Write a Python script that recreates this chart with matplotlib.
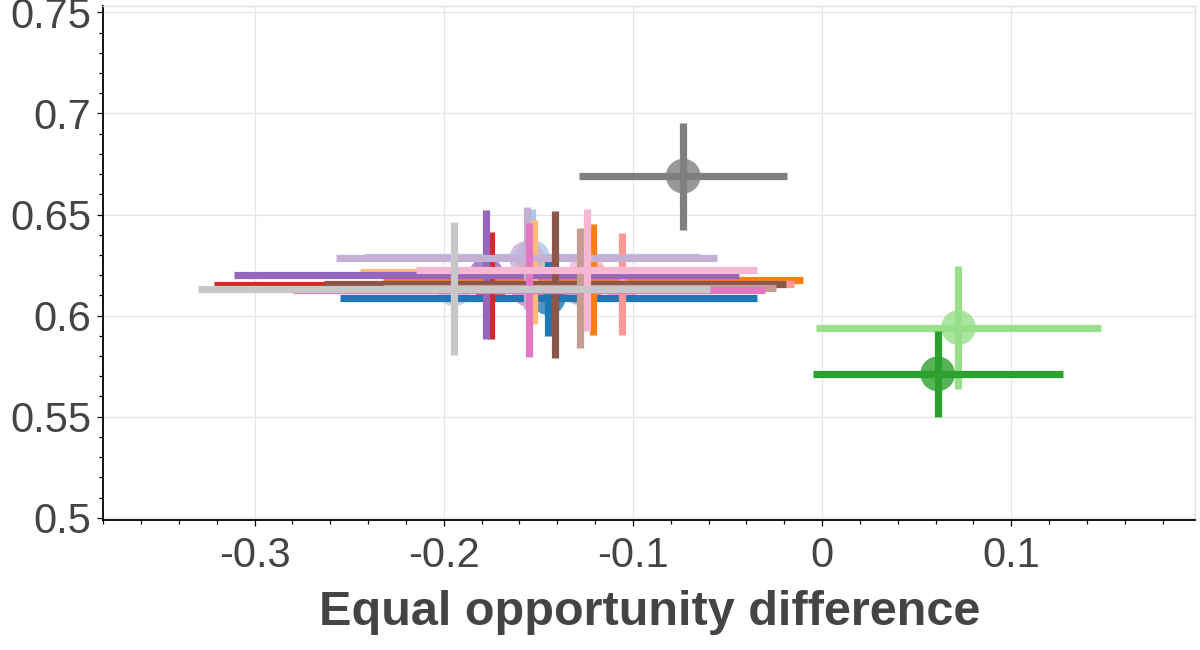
import matplotlib
matplotlib.use('Agg')
import matplotlib.pyplot as plt
from matplotlib.ticker import MultipleLocator, FuncFormatter

plt.rcParams['font.family'] = ['Liberation Sans', 'DejaVu Sans']
plt.rcParams['axes.unicode_minus'] = False

# one point per model, drawn in this order
colors = ['#1f77b4', '#aec7e8', '#ff7f0e', '#ffbb78', '#98df8a', '#2ca02c',
          '#d62728', '#ff9896', '#9467bd', '#c5b0d5', '#8c564b', '#c49c94',
          '#e377c2', '#f7b6d2', '#7f7f7f', '#c7c7c7']
eq_opp = [-0.1448, -0.1532, -0.1213, -0.1523, 0.0721, 0.0611,
          -0.1753, -0.1058, -0.1775, -0.1562, -0.1410, -0.1281,
          -0.1549, -0.1245, -0.0734, -0.1945]
eq_opp_err = [0.1103, 0.0888, 0.1110, 0.0918, 0.0753, 0.0660,
              0.1463, 0.0908, 0.1335, 0.1008, 0.1221, 0.1037,
              0.1248, 0.0900, 0.0549, 0.1353]
score = [0.6089, 0.6289, 0.6178, 0.6215, 0.5941, 0.5712,
         0.6150, 0.6155, 0.6202, 0.6283, 0.6155, 0.6138,
         0.6128, 0.6224, 0.6690, 0.6132]
score_err = [0.0190, 0.0236, 0.0275, 0.0257, 0.0303, 0.0214,
             0.0265, 0.0252, 0.0320, 0.0252, 0.0363, 0.0297,
             0.0331, 0.0301, 0.0265, 0.0329]

text_color = '#444444'

fig = plt.figure(figsize=(12, 6.5), dpi=100)
ax = fig.add_axes([0.0861, 0.2, 0.9100, 0.7912])

ax.scatter(eq_opp, score, s=25 ** 2, c=colors, alpha=0.8, linewidths=0, zorder=2)
for x, y, xe, ye, c in zip(eq_opp, score, eq_opp_err, score_err, colors):
    ax.errorbar(x, y, xerr=xe, yerr=ye, fmt='none', ecolor=c,
                elinewidth=5.2, capsize=0, zorder=3)

ax.set_xlim(-0.38, 0.1973)
ax.set_ylim(0.4989, 0.7533)

ax.xaxis.set_major_locator(MultipleLocator(0.1))
ax.xaxis.set_minor_locator(MultipleLocator(0.02))
ax.yaxis.set_major_locator(MultipleLocator(0.05))
ax.yaxis.set_minor_locator(MultipleLocator(0.01))
fmt = FuncFormatter(lambda v, pos: '%g' % (round(v, 4) + 0.0))
ax.xaxis.set_major_formatter(fmt)
ax.yaxis.set_major_formatter(fmt)

ax.grid(True, which='major', color='#e5e5e5', linewidth=0.9, zorder=0)
ax.set_axisbelow(True)

for side in ['top', 'right']:
    ax.spines[side].set_color('#e0e0e0')
    ax.spines[side].set_linewidth(1.0)
for side in ['left', 'bottom']:
    ax.spines[side].set_color('black')
    ax.spines[side].set_linewidth(1.3)

ax.tick_params(which='both', direction='out', color='black', width=0.9,
               labelcolor=text_color, labelsize=30, top=False, right=False)
ax.tick_params(which='major', length=4.6)
ax.tick_params(which='minor', length=3.1)
ax.tick_params(axis='x', which='major', pad=7)
ax.tick_params(axis='y', which='major', pad=4)

ax.set_xlabel('Equal opportunity difference', fontsize=35, fontweight='bold',
              color=text_color)
ax.xaxis.set_label_coords(0.5, -0.136)

fig.savefig('out.png', dpi=100)
